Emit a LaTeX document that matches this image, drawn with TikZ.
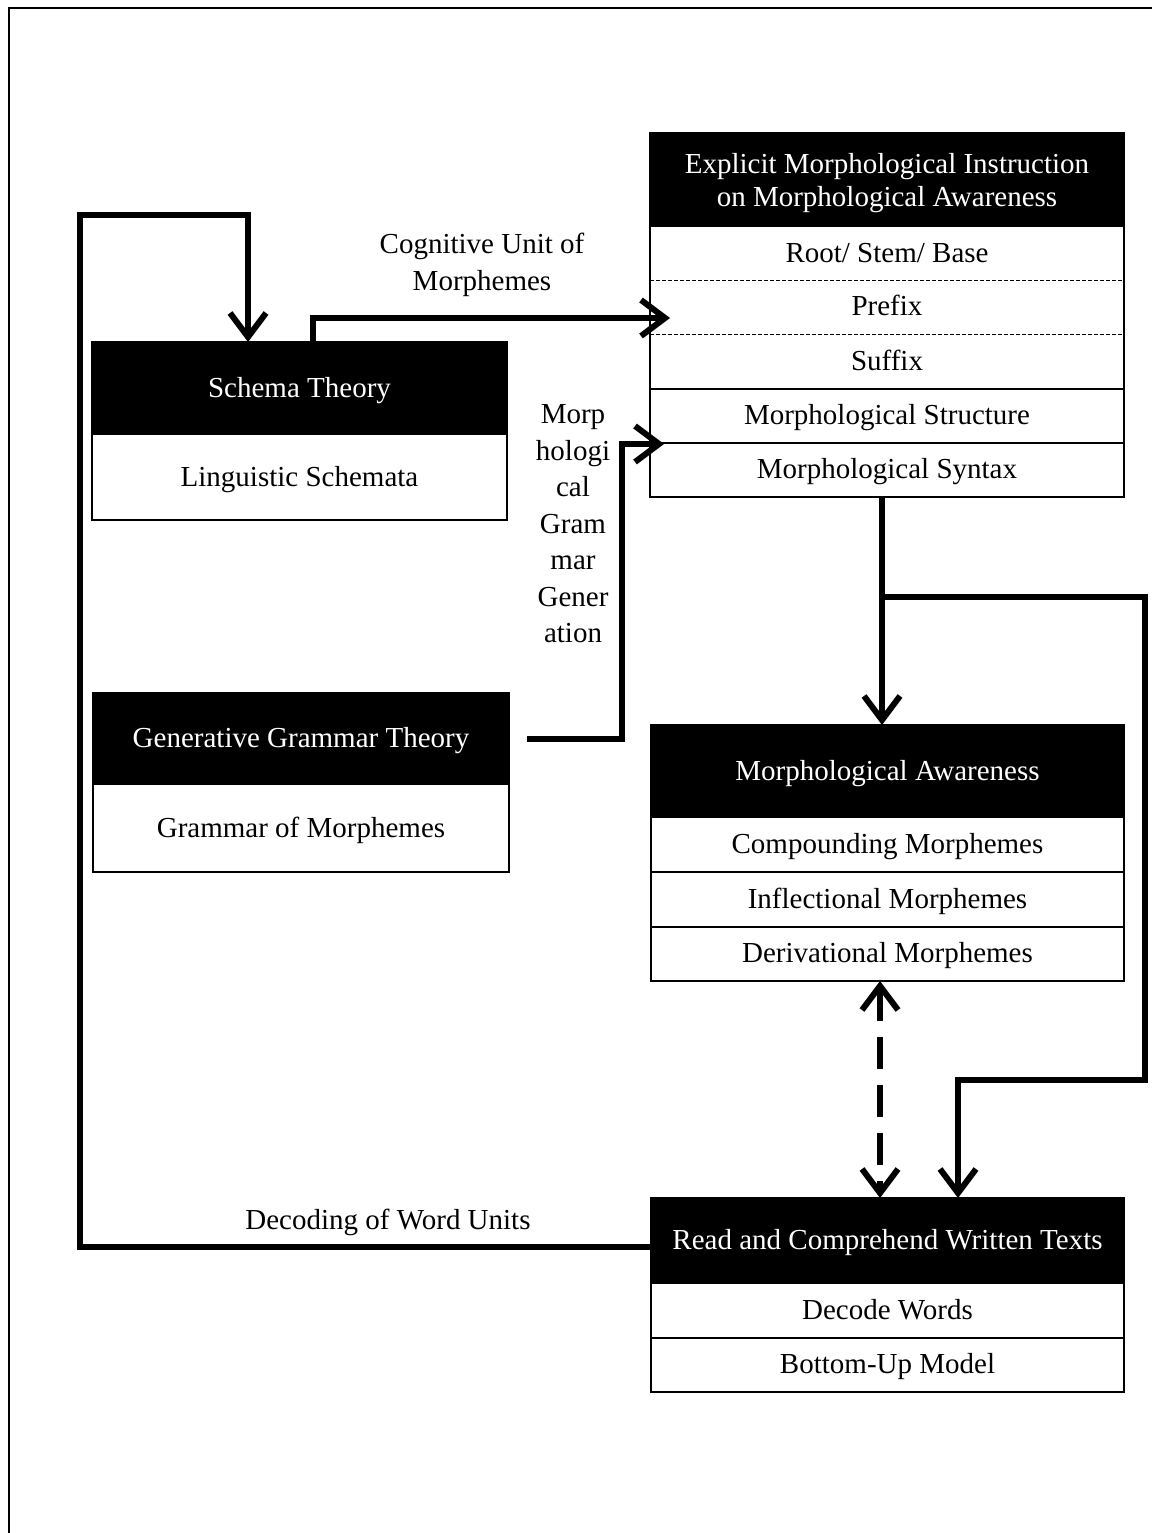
\documentclass[tikz,border=0pt]{standalone}
\usepackage{fontspec}
\setmainfont{Liberation Serif}
\usetikzlibrary{arrows.meta}
\begin{document}
\begin{tikzpicture}[x=1pt,y=-1pt,
  hdr/.style={fill=black,text=white,inner sep=0pt,outer sep=0pt,align=center,font=\fontsize{29}{33}\selectfont},
  hdrone/.style={hdr,text height=23pt,text depth=6pt},
  cell/.style={inner sep=0pt,outer sep=0pt,font=\fontsize{29}{33}\selectfont,text height=23pt,text depth=6pt},
  thinln/.style={line width=1.8pt},
  sepln/.style={line width=0.8pt,dash pattern=on 4pt off 2pt},
  conn/.style={line width=6pt},
  carr/.style={conn,-{Straight Barb[length=24pt,width=36pt]}},
  lbl/.style={align=center,font=\fontsize{29}{36.5}\selectfont,inner sep=0pt}
]
\useasboundingbox (0,0) rectangle (1152,1533);
% frame
\draw[line width=2.5pt] (9,1533) -- (9,8) -- (1152,8);

% Box A
\node[hdr, minimum width=474pt, minimum height=94pt] (aH) at (887,180) {\rule{0pt}{27pt}Explicit Morphological Instruction\\on Morphological Awareness};
\node[cell, minimum width=474pt, minimum height=53pt] (aR1) at (887,253.5) {Root/ Stem/ Base};
\node[cell, minimum width=474pt, minimum height=54pt] (aR2) at (887,307) {Prefix};
\node[cell, minimum width=474pt, minimum height=55pt] (aR3) at (887,361.5) {Suffix};
\node[cell, minimum width=474pt, minimum height=54pt] (aR4) at (887,416) {Morphological Structure};
\node[cell, minimum width=474pt, minimum height=54pt] (aR5) at (887,470) {Morphological Syntax};
\draw[thinln] (aH.north west) rectangle (aR5.south east);
\draw[sepln] (aR1.south west) -- (aR1.south east);
\draw[sepln] (aR2.south west) -- (aR2.south east);
\draw[thinln] (aR3.south west) -- (aR3.south east);
\draw[thinln] (aR4.south west) -- (aR4.south east);

% Schema box
\node[hdrone, minimum width=415pt, minimum height=93pt] (sH) at (299.5,388.5) {Schema Theory};
\node[cell, minimum width=415pt, minimum height=85pt] (sR1) at (299.5,477.5) {Linguistic Schemata};
\draw[thinln] (sH.north west) rectangle (sR1.south east);

% Generative box
\node[hdrone, minimum width=416pt, minimum height=92pt] (gH) at (301,739) {Generative Grammar Theory};
\node[cell, minimum width=416pt, minimum height=87pt] (gR1) at (301,828.5) {Grammar of Morphemes};
\draw[thinln] (gH.north west) rectangle (gR1.south east);

% Morphological Awareness box
\node[hdrone, minimum width=473pt, minimum height=93pt] (mH) at (887.5,771.5) {Morphological Awareness};
\node[cell, minimum width=473pt, minimum height=54pt] (mR1) at (887.5,845) {Compounding Morphemes};
\node[cell, minimum width=473pt, minimum height=55pt] (mR2) at (887.5,899.5) {Inflectional Morphemes};
\node[cell, minimum width=473pt, minimum height=54pt] (mR3) at (887.5,954) {Derivational Morphemes};
\draw[thinln] (mH.north west) rectangle (mR3.south east);
\draw[thinln] (mR1.south west) -- (mR1.south east);
\draw[thinln] (mR2.south west) -- (mR2.south east);

% Read box
\node[hdrone, minimum width=473pt, minimum height=86pt] (rH) at (887.5,1241) {Read and Comprehend Written Texts};
\node[cell, minimum width=473pt, minimum height=54pt] (rR1) at (887.5,1311) {Decode Words};
\node[cell, minimum width=473pt, minimum height=54pt] (rR2) at (887.5,1365) {Bottom-Up Model};
\draw[thinln] (rH.north west) rectangle (rR2.south east);
\draw[thinln] (rR1.south west) -- (rR1.south east);

% labels
\node[lbl] (lCog) at (482,265) {Cognitive Unit of\\Morphemes};
\node[lbl] (lMorph) at (573,524) {Morp\\hologi\\cal\\Gram\\mar\\Gener\\ation};
\node[lbl] (lDec) at (388,1222) {Decoding of Word Units};

% connectors
\coordinate (L1) at (80,1247);
\coordinate (L2) at (80,215);
\coordinate (L3) at (248,215);
\draw[carr] ([yshift=-6pt]rH.west) -- (L1) -- (L2) -- (L3) -- (L3 |- sH.north);

\coordinate (C1) at (313,318);
\coordinate (C2) at (670,318);
\draw[carr] (C1 |- sH.north) -- (C1) -- (C2);

\coordinate (G1) at (622,739);
\coordinate (G2) at (622,444);
\coordinate (G3) at (664,444);
\draw[carr] ([xshift=18pt]gH.east) -- (G1) -- (G2) -- (G3);

\coordinate (D1) at (882,597);
\draw[carr] (D1 |- aR5.south) -- (D1 |- mH.north);
\coordinate (D2) at (1145,597);
\coordinate (D3) at (1145,1080);
\coordinate (D4) at (958,1080);
\draw[carr] (D1) -- (D2) -- (D3) -- (D4) -- (D4 |- rH.north);

\coordinate (E1) at (880,1000);
\draw[conn,dash pattern=on 32pt off 16pt,{Straight Barb[length=24pt,width=36pt]}-{Straight Barb[length=24pt,width=36pt]}] (E1 |- mR3.south) -- (E1 |- rH.north);
\end{tikzpicture}
\end{document}
